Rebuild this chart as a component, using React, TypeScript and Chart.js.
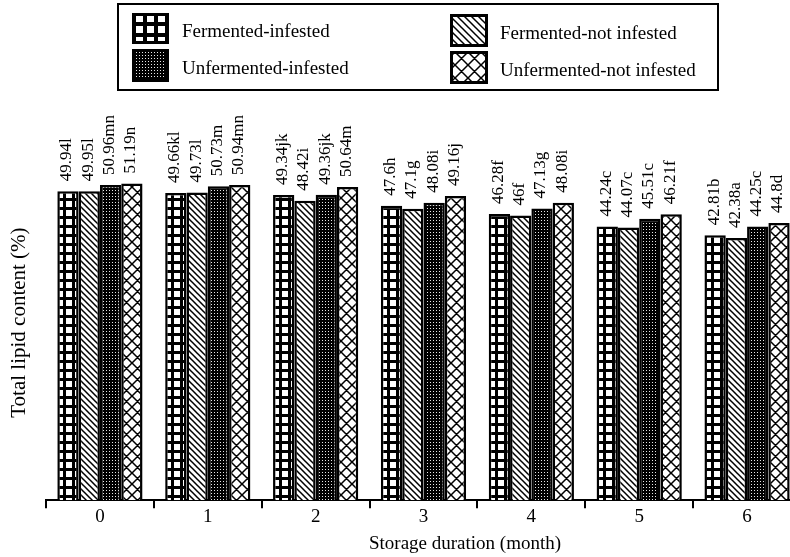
import React, { useEffect, useRef } from "react";
import { Chart, registerables } from "chart.js";

Chart.register(...registerables);

// Storage duration in months
const months = ["0", "1", "2", "3", "4", "5", "6"];

// Total lipid content (%) per treatment
const fermentedInfested = [49.94, 49.66, 49.34, 47.6, 46.28, 44.24, 42.81];
const fermentedNotInfested = [49.95, 49.73, 48.42, 47.1, 46, 44.07, 42.38];
const unfermentedInfested = [50.96, 50.73, 49.36, 48.08, 47.13, 45.51, 44.25];
const unfermentedNotInfested = [51.19, 50.94, 50.64, 49.16, 48.08, 46.21, 44.8];

// Significance letters shown after each value
const fermentedInfestedLetters = ["l", "kl", "jk", "h", "f", "c", "b"];
const fermentedNotInfestedLetters = ["l", "l", "i", "g", "f", "c", "a"];
const unfermentedInfestedLetters = ["mn", "m", "jk", "i", "g", "c", "c"];
const unfermentedNotInfestedLetters = ["n", "mn", "m", "j", "i", "f", "d"];

const seriesNames = [
  "Fermented-infested",
  "Fermented-not infested",
  "Unfermented-infested",
  "Unfermented-not infested",
];

const SERIF = "'Liberation Serif', 'Times New Roman', serif";

type PatternKind = "grid" | "diagonal" | "dots" | "cross";
const seriesPatterns: PatternKind[] = ["grid", "diagonal", "dots", "cross"];

function makePattern(kind: PatternKind, scale = 1): CanvasPattern | string {
  const tile = document.createElement("canvas");
  const ctx = tile.getContext("2d");
  if (!ctx) return "#888";
  if (kind === "grid") {
    const s = Math.round(9 * scale);
    const line = Math.round(3 * scale);
    tile.width = s;
    tile.height = s;
    ctx.fillStyle = "#000";
    ctx.fillRect(0, 0, s, s);
    ctx.fillStyle = "#fff";
    ctx.fillRect(line, line, s - line, s - line);
  } else if (kind === "diagonal") {
    const s = Math.round(6 * scale);
    tile.width = s;
    tile.height = s;
    ctx.fillStyle = "#fff";
    ctx.fillRect(0, 0, s, s);
    ctx.strokeStyle = "#000";
    ctx.lineWidth = 1.5;
    ctx.beginPath();
    for (const o of [-s, 0, s]) {
      ctx.moveTo(o - 1, -1);
      ctx.lineTo(o + s + 1, s + 1);
    }
    ctx.stroke();
  } else if (kind === "dots") {
    tile.width = 3;
    tile.height = 3;
    ctx.fillStyle = "#000";
    ctx.fillRect(0, 0, 3, 3);
    ctx.fillStyle = "#e8e8e8";
    ctx.fillRect(1, 1, 1, 1);
  } else {
    const s = Math.round(11 * scale);
    tile.width = s;
    tile.height = s;
    ctx.fillStyle = "#fff";
    ctx.fillRect(0, 0, s, s);
    ctx.strokeStyle = "#000";
    ctx.lineWidth = 1.5;
    ctx.beginPath();
    for (const o of [-s, 0, s]) {
      ctx.moveTo(o - 1, -1);
      ctx.lineTo(o + s + 1, s + 1);
      ctx.moveTo(o - 1, s + 1);
      ctx.lineTo(o + s + 1, -1);
    }
    ctx.stroke();
  }
  return ctx.createPattern(tile, "repeat") || "#888";
}

export default function App() {
  const canvasRef = useRef<HTMLCanvasElement | null>(null);

  useEffect(() => {
    const canvas = canvasRef.current;
    if (!canvas) return;

    const values = [
      fermentedInfested,
      fermentedNotInfested,
      unfermentedInfested,
      unfermentedNotInfested,
    ];
    const letters = [
      fermentedInfestedLetters,
      fermentedNotInfestedLetters,
      unfermentedInfestedLetters,
      unfermentedNotInfestedLetters,
    ];
    const patterns = seriesPatterns.map((k) => makePattern(k));
    const legendPatterns = seriesPatterns.map((k) => makePattern(k, 1.2));

    // Legend entries: [series index, swatch x, swatch y, swatch w, swatch h, text x, text baseline]
    const legendEntries: number[][] = [
      [0, 132, 13, 37, 31, 182, 37],
      [2, 132, 49, 37, 33, 182, 74],
      [1, 450, 14, 38, 33, 500, 39],
      [3, 450, 51, 38, 33, 500, 76],
    ];

    const decorations = {
      id: "decorations",
      afterDatasetsDraw(chart: Chart) {
        const ctx = chart.ctx;
        ctx.save();
        ctx.fillStyle = "#000";
        ctx.font = `17px ${SERIF}`;
        ctx.textAlign = "left";
        ctx.textBaseline = "middle";
        values.forEach((series, i) => {
          const meta = chart.getDatasetMeta(i);
          meta.data.forEach((bar: any, j: number) => {
            const text = `${series[j]}${letters[i][j]}`;
            ctx.save();
            ctx.translate(bar.x - 1, bar.y - 10);
            ctx.rotate(-Math.PI / 2);
            ctx.fillText(text, 0, 0);
            ctx.restore();
          });
        });
        ctx.restore();
      },
      afterDraw(chart: Chart) {
        const ctx = chart.ctx;
        const area = chart.chartArea;
        ctx.save();
        ctx.fillStyle = "#000";

        // Axis titles
        ctx.font = `19px ${SERIF}`;
        ctx.textAlign = "center";
        ctx.textBaseline = "alphabetic";
        ctx.fillText("Storage duration (month)", area.left + 419, 549);

        ctx.save();
        ctx.font = `21px ${SERIF}`;
        ctx.translate(25, (area.top + area.bottom) / 2 + 8);
        ctx.rotate(-Math.PI / 2);
        ctx.textBaseline = "alphabetic";
        ctx.fillText("Total lipid content (%)", 0, 0);
        ctx.restore();

        // Legend frame
        ctx.strokeStyle = "#000";
        ctx.lineWidth = 2;
        ctx.strokeRect(118, 4, 600, 86);

        ctx.textAlign = "left";
        ctx.font = `19px ${SERIF}`;
        legendEntries.forEach(([idx, x, y, w, h, tx, ty]) => {
          ctx.fillStyle = legendPatterns[idx] as any;
          ctx.fillRect(x, y, w, h);
          ctx.lineWidth = 3;
          ctx.strokeStyle = "#000";
          ctx.strokeRect(x + 1.5, y + 1.5, w - 3, h - 3);
          ctx.fillStyle = "#000";
          ctx.fillText(seriesNames[idx], tx, ty);
        });
        ctx.restore();
      },
    };

    const chart = new Chart(canvas, {
      type: "bar",
      data: {
        labels: months,
        datasets: values.map((data, i) => ({
          label: seriesNames[i],
          data,
          backgroundColor: patterns[i] as any,
          borderColor: "#000",
          borderWidth: 2.5,
          borderSkipped: "start",
          barPercentage: 1,
          categoryPercentage: 0.79,
        })),
      },
      options: {
        animation: false,
        responsive: false,
        maintainAspectRatio: false,
        layout: { padding: { left: 46, right: 11, top: 129, bottom: 32 } },
        plugins: {
          legend: { display: false },
          tooltip: { enabled: false },
        },
        scales: {
          x: {
            grid: {
              display: true,
              drawOnChartArea: false,
              drawTicks: true,
              tickLength: 8,
              lineWidth: 2,
              color: "#000",
              offset: true,
            },
            border: { display: true, color: "#000", width: 2 },
            ticks: {
              color: "#000",
              font: { family: SERIF, size: 19 },
              padding: -3,
            },
          },
          y: { display: false, min: 0, max: 60 },
        },
      },
      plugins: [decorations],
    });

    return () => chart.destroy();
  }, []);

  return (
    <div
      style={{
        position: "fixed",
        left: 0,
        top: 0,
        width: 790,
        height: 557,
        overflow: "hidden",
        background: "#fff",
      }}
    >
      <canvas ref={canvasRef} width={812} height={557} />
    </div>
  );
}
